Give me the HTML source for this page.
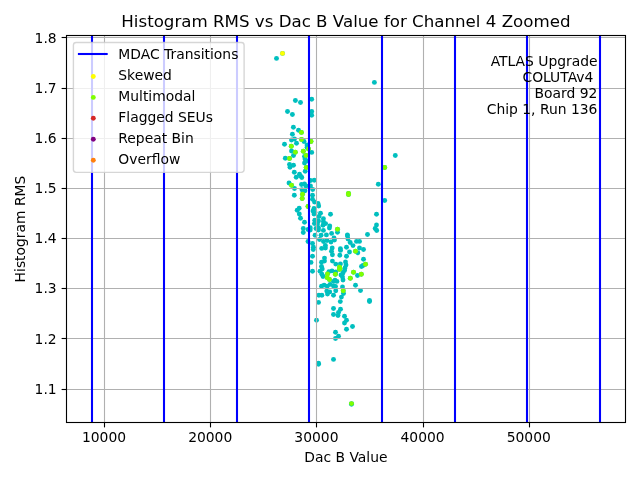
<!DOCTYPE html>
<html lang="en"><head><meta charset="utf-8"><title>Histogram RMS vs Dac B Value for Channel 4 Zoomed</title>
<style>html,body{margin:0;padding:0;background:#fff;overflow:hidden}svg{display:block;will-change:transform}text{font-family:"DejaVu Sans","Liberation Sans",sans-serif;fill:#000}</style></head><body>
<svg width="640" height="480" viewBox="0 0 640 480">
<clipPath id="ax"><rect x="66.5" y="35.5" width="559" height="387"/></clipPath>
<g clip-path="url(#ax)">
<g fill="#00bfbf">
<circle cx="276.50" cy="58.40" r="2.45"/>
<circle cx="282.50" cy="53.40" r="2.45"/>
<circle cx="374.40" cy="82.40" r="2.45"/>
<circle cx="295.40" cy="100.50" r="2.45"/>
<circle cx="300.50" cy="102.50" r="2.45"/>
<circle cx="311.70" cy="99.30" r="2.45"/>
<circle cx="287.50" cy="111.50" r="2.45"/>
<circle cx="292.40" cy="114.50" r="2.45"/>
<circle cx="311.70" cy="111.50" r="2.45"/>
<circle cx="311.70" cy="115.30" r="2.45"/>
<circle cx="293.40" cy="127.30" r="2.45"/>
<circle cx="298.50" cy="130.30" r="2.45"/>
<circle cx="292.40" cy="134.30" r="2.45"/>
<circle cx="291.50" cy="140.00" r="2.45"/>
<circle cx="294.50" cy="139.00" r="2.45"/>
<circle cx="304.00" cy="141.50" r="2.45"/>
<circle cx="284.50" cy="144.30" r="2.45"/>
<circle cx="296.50" cy="143.30" r="2.45"/>
<circle cx="307.00" cy="145.00" r="2.45"/>
<circle cx="307.00" cy="147.50" r="2.45"/>
<circle cx="291.50" cy="151.00" r="2.45"/>
<circle cx="311.70" cy="152.40" r="2.45"/>
<circle cx="293.50" cy="155.50" r="2.45"/>
<circle cx="285.30" cy="158.30" r="2.45"/>
<circle cx="304.50" cy="156.50" r="2.45"/>
<circle cx="305.00" cy="159.00" r="2.45"/>
<circle cx="307.00" cy="161.00" r="2.45"/>
<circle cx="289.50" cy="164.50" r="2.45"/>
<circle cx="293.50" cy="165.20" r="2.45"/>
<circle cx="290.00" cy="167.20" r="2.45"/>
<circle cx="304.50" cy="163.00" r="2.45"/>
<circle cx="305.20" cy="171.30" r="2.45"/>
<circle cx="294.30" cy="172.30" r="2.45"/>
<circle cx="299.50" cy="174.20" r="2.45"/>
<circle cx="296.20" cy="177.30" r="2.45"/>
<circle cx="301.80" cy="177.50" r="2.45"/>
<circle cx="300.50" cy="176.00" r="2.45"/>
<circle cx="314.30" cy="180.30" r="2.45"/>
<circle cx="310.50" cy="180.50" r="2.45"/>
<circle cx="289.00" cy="183.00" r="2.45"/>
<circle cx="301.50" cy="184.50" r="2.45"/>
<circle cx="304.50" cy="184.00" r="2.45"/>
<circle cx="306.00" cy="186.00" r="2.45"/>
<circle cx="310.50" cy="186.00" r="2.45"/>
<circle cx="294.50" cy="188.50" r="2.45"/>
<circle cx="302.00" cy="189.80" r="2.45"/>
<circle cx="305.00" cy="190.80" r="2.45"/>
<circle cx="312.70" cy="189.50" r="2.45"/>
<circle cx="294.30" cy="195.30" r="2.45"/>
<circle cx="312.50" cy="195.30" r="2.45"/>
<circle cx="312.50" cy="199.30" r="2.45"/>
<circle cx="314.50" cy="202.00" r="2.45"/>
<circle cx="318.00" cy="203.50" r="2.45"/>
<circle cx="318.70" cy="206.00" r="2.45"/>
<circle cx="314.00" cy="208.50" r="2.45"/>
<circle cx="313.00" cy="211.00" r="2.45"/>
<circle cx="299.20" cy="208.20" r="2.45"/>
<circle cx="297.20" cy="210.30" r="2.45"/>
<circle cx="299.30" cy="214.00" r="2.45"/>
<circle cx="320.50" cy="213.20" r="2.45"/>
<circle cx="319.00" cy="216.50" r="2.45"/>
<circle cx="330.50" cy="214.30" r="2.45"/>
<circle cx="314.00" cy="214.00" r="2.45"/>
<circle cx="395.30" cy="155.50" r="2.45"/>
<circle cx="378.30" cy="184.30" r="2.45"/>
<circle cx="384.70" cy="200.50" r="2.45"/>
<circle cx="376.50" cy="214.30" r="2.45"/>
<circle cx="376.50" cy="225.00" r="2.45"/>
<circle cx="375.20" cy="228.50" r="2.45"/>
<circle cx="376.70" cy="230.50" r="2.45"/>
<circle cx="367.50" cy="234.50" r="2.45"/>
<circle cx="300.50" cy="218.30" r="2.45"/>
<circle cx="304.50" cy="222.30" r="2.45"/>
<circle cx="303.30" cy="228.50" r="2.45"/>
<circle cx="303.30" cy="232.50" r="2.45"/>
<circle cx="308.00" cy="229.50" r="2.45"/>
<circle cx="323.40" cy="218.75" r="2.45"/>
<circle cx="323.40" cy="221.75" r="2.45"/>
<circle cx="325.60" cy="223.60" r="2.45"/>
<circle cx="314.75" cy="220.25" r="2.45"/>
<circle cx="314.40" cy="223.60" r="2.45"/>
<circle cx="318.50" cy="221.00" r="2.45"/>
<circle cx="329.75" cy="225.90" r="2.45"/>
<circle cx="329.40" cy="228.10" r="2.45"/>
<circle cx="337.50" cy="232.25" r="2.45"/>
<circle cx="318.50" cy="227.75" r="2.45"/>
<circle cx="318.50" cy="230.00" r="2.45"/>
<circle cx="323.40" cy="230.40" r="2.45"/>
<circle cx="310.25" cy="227.75" r="2.45"/>
<circle cx="310.25" cy="230.00" r="2.45"/>
<circle cx="331.60" cy="233.40" r="2.45"/>
<circle cx="326.40" cy="234.90" r="2.45"/>
<circle cx="347.40" cy="234.90" r="2.45"/>
<circle cx="315.10" cy="235.25" r="2.45"/>
<circle cx="321.10" cy="235.25" r="2.45"/>
<circle cx="334.00" cy="238.00" r="2.45"/>
<circle cx="334.50" cy="240.00" r="2.45"/>
<circle cx="319.50" cy="239.50" r="2.45"/>
<circle cx="323.50" cy="241.50" r="2.45"/>
<circle cx="327.00" cy="240.50" r="2.45"/>
<circle cx="331.00" cy="242.00" r="2.45"/>
<circle cx="308.00" cy="241.50" r="2.45"/>
<circle cx="312.50" cy="243.50" r="2.45"/>
<circle cx="313.40" cy="247.20" r="2.45"/>
<circle cx="313.25" cy="249.50" r="2.45"/>
<circle cx="350.20" cy="242.50" r="2.45"/>
<circle cx="353.00" cy="245.60" r="2.45"/>
<circle cx="325.40" cy="245.50" r="2.45"/>
<circle cx="321.70" cy="248.40" r="2.45"/>
<circle cx="325.40" cy="248.00" r="2.45"/>
<circle cx="332.20" cy="248.00" r="2.45"/>
<circle cx="331.50" cy="251.30" r="2.45"/>
<circle cx="332.40" cy="254.75" r="2.45"/>
<circle cx="340.40" cy="248.70" r="2.45"/>
<circle cx="340.50" cy="250.40" r="2.45"/>
<circle cx="346.50" cy="247.30" r="2.45"/>
<circle cx="349.50" cy="252.00" r="2.45"/>
<circle cx="347.50" cy="236.00" r="2.45"/>
<circle cx="348.00" cy="239.00" r="2.45"/>
<circle cx="356.50" cy="241.40" r="2.45"/>
<circle cx="359.50" cy="241.40" r="2.45"/>
<circle cx="359.50" cy="248.00" r="2.45"/>
<circle cx="363.50" cy="249.50" r="2.45"/>
<circle cx="357.80" cy="252.80" r="2.45"/>
<circle cx="346.50" cy="256.30" r="2.45"/>
<circle cx="339.80" cy="255.30" r="2.45"/>
<circle cx="363.50" cy="259.30" r="2.45"/>
<circle cx="361.50" cy="266.50" r="2.45"/>
<circle cx="363.00" cy="265.50" r="2.45"/>
<circle cx="345.50" cy="262.00" r="2.45"/>
<circle cx="346.00" cy="265.00" r="2.45"/>
<circle cx="345.00" cy="268.00" r="2.45"/>
<circle cx="344.50" cy="270.50" r="2.45"/>
<circle cx="343.00" cy="273.00" r="2.45"/>
<circle cx="340.40" cy="263.90" r="2.45"/>
<circle cx="357.50" cy="275.50" r="2.45"/>
<circle cx="342.50" cy="277.00" r="2.45"/>
<circle cx="343.00" cy="280.00" r="2.45"/>
<circle cx="341.00" cy="275.00" r="2.45"/>
<circle cx="312.50" cy="256.25" r="2.45"/>
<circle cx="311.00" cy="262.40" r="2.45"/>
<circle cx="312.50" cy="271.25" r="2.45"/>
<circle cx="324.50" cy="258.10" r="2.45"/>
<circle cx="321.50" cy="262.25" r="2.45"/>
<circle cx="324.50" cy="261.10" r="2.45"/>
<circle cx="332.40" cy="261.10" r="2.45"/>
<circle cx="335.75" cy="264.10" r="2.45"/>
<circle cx="321.50" cy="266.40" r="2.45"/>
<circle cx="322.25" cy="269.00" r="2.45"/>
<circle cx="320.00" cy="271.25" r="2.45"/>
<circle cx="321.90" cy="274.25" r="2.45"/>
<circle cx="323.00" cy="276.50" r="2.45"/>
<circle cx="329.00" cy="271.60" r="2.45"/>
<circle cx="332.00" cy="270.90" r="2.45"/>
<circle cx="335.75" cy="272.00" r="2.45"/>
<circle cx="335.00" cy="280.25" r="2.45"/>
<circle cx="333.50" cy="281.40" r="2.45"/>
<circle cx="336.90" cy="281.40" r="2.45"/>
<circle cx="321.50" cy="286.25" r="2.45"/>
<circle cx="324.10" cy="285.10" r="2.45"/>
<circle cx="330.10" cy="284.40" r="2.45"/>
<circle cx="333.50" cy="285.90" r="2.45"/>
<circle cx="342.50" cy="287.00" r="2.45"/>
<circle cx="326.75" cy="291.10" r="2.45"/>
<circle cx="329.75" cy="291.90" r="2.45"/>
<circle cx="327.50" cy="294.10" r="2.45"/>
<circle cx="335.75" cy="290.75" r="2.45"/>
<circle cx="333.50" cy="295.25" r="2.45"/>
<circle cx="318.90" cy="295.25" r="2.45"/>
<circle cx="321.90" cy="295.25" r="2.45"/>
<circle cx="341.40" cy="297.10" r="2.45"/>
<circle cx="318.50" cy="302.40" r="2.45"/>
<circle cx="340.30" cy="301.60" r="2.45"/>
<circle cx="333.50" cy="308.50" r="2.45"/>
<circle cx="340.50" cy="309.20" r="2.45"/>
<circle cx="338.50" cy="312.50" r="2.45"/>
<circle cx="338.00" cy="315.50" r="2.45"/>
<circle cx="333.50" cy="314.50" r="2.45"/>
<circle cx="344.50" cy="316.30" r="2.45"/>
<circle cx="346.50" cy="320.30" r="2.45"/>
<circle cx="344.50" cy="323.00" r="2.45"/>
<circle cx="316.50" cy="320.30" r="2.45"/>
<circle cx="352.50" cy="326.50" r="2.45"/>
<circle cx="346.50" cy="329.30" r="2.45"/>
<circle cx="335.50" cy="332.30" r="2.45"/>
<circle cx="338.50" cy="336.30" r="2.45"/>
<circle cx="335.50" cy="338.50" r="2.45"/>
<circle cx="355.50" cy="285.30" r="2.45"/>
<circle cx="360.50" cy="290.50" r="2.45"/>
<circle cx="343.50" cy="293.50" r="2.45"/>
<circle cx="369.50" cy="300.50" r="2.45"/>
<circle cx="369.50" cy="301.50" r="2.45"/>
<circle cx="316.30" cy="220.50" r="2.45"/>
<circle cx="317.50" cy="224.00" r="2.45"/>
<circle cx="316.00" cy="228.50" r="2.45"/>
<circle cx="323.00" cy="225.20" r="2.45"/>
<circle cx="315.00" cy="212.50" r="2.45"/>
<circle cx="327.20" cy="286.20" r="2.45"/>
<circle cx="335.50" cy="286.50" r="2.45"/>
<circle cx="333.50" cy="359.40" r="2.45"/>
<circle cx="318.50" cy="363.20" r="2.45"/>
<circle cx="318.50" cy="364.30" r="2.45"/>
<circle cx="351.50" cy="404.30" r="2.45"/>
<circle cx="301.40" cy="132.40" r="2.45"/>
<circle cx="301.50" cy="139.50" r="2.45"/>
<circle cx="311.00" cy="141.50" r="2.45"/>
<circle cx="291.30" cy="146.30" r="2.45"/>
<circle cx="308.50" cy="149.00" r="2.45"/>
<circle cx="295.30" cy="152.20" r="2.45"/>
<circle cx="303.30" cy="151.20" r="2.45"/>
<circle cx="306.00" cy="155.50" r="2.45"/>
<circle cx="289.50" cy="158.50" r="2.45"/>
<circle cx="306.20" cy="167.50" r="2.45"/>
<circle cx="291.50" cy="185.30" r="2.45"/>
<circle cx="302.50" cy="194.20" r="2.45"/>
<circle cx="302.20" cy="198.50" r="2.45"/>
<circle cx="308.00" cy="206.50" r="2.45"/>
<circle cx="384.70" cy="167.50" r="2.45"/>
<circle cx="348.50" cy="193.50" r="2.45"/>
<circle cx="348.50" cy="194.50" r="2.45"/>
<circle cx="337.50" cy="229.25" r="2.45"/>
<circle cx="355.50" cy="251.30" r="2.45"/>
<circle cx="365.50" cy="264.30" r="2.45"/>
<circle cx="340.00" cy="268.50" r="2.45"/>
<circle cx="353.50" cy="272.30" r="2.45"/>
<circle cx="361.30" cy="274.30" r="2.45"/>
<circle cx="350.30" cy="278.30" r="2.45"/>
<circle cx="339.50" cy="267.10" r="2.45"/>
<circle cx="339.50" cy="269.40" r="2.45"/>
<circle cx="327.50" cy="273.90" r="2.45"/>
<circle cx="335.40" cy="274.25" r="2.45"/>
<circle cx="327.10" cy="277.60" r="2.45"/>
<circle cx="329.40" cy="279.50" r="2.45"/>
<circle cx="343.25" cy="290.75" r="2.45"/>
<circle cx="351.50" cy="403.60" r="2.45"/>
</g>
<g fill="#ffff00">
<circle cx="282.50" cy="53.40" r="2.45"/>
</g>
<g fill="#7fff00">
<circle cx="301.40" cy="132.40" r="2.45"/>
<circle cx="301.50" cy="139.50" r="2.45"/>
<circle cx="311.00" cy="141.50" r="2.45"/>
<circle cx="291.30" cy="146.30" r="2.45"/>
<circle cx="308.50" cy="149.00" r="2.45"/>
<circle cx="295.30" cy="152.20" r="2.45"/>
<circle cx="303.30" cy="151.20" r="2.45"/>
<circle cx="306.00" cy="155.50" r="2.45"/>
<circle cx="289.50" cy="158.50" r="2.45"/>
<circle cx="306.20" cy="167.50" r="2.45"/>
<circle cx="291.50" cy="185.30" r="2.45"/>
<circle cx="302.50" cy="194.20" r="2.45"/>
<circle cx="302.20" cy="198.50" r="2.45"/>
<circle cx="308.00" cy="206.50" r="2.45"/>
<circle cx="384.70" cy="167.50" r="2.45"/>
<circle cx="348.50" cy="193.50" r="2.45"/>
<circle cx="348.50" cy="194.50" r="2.45"/>
<circle cx="337.50" cy="229.25" r="2.45"/>
<circle cx="355.50" cy="251.30" r="2.45"/>
<circle cx="365.50" cy="264.30" r="2.45"/>
<circle cx="340.00" cy="268.50" r="2.45"/>
<circle cx="353.50" cy="272.30" r="2.45"/>
<circle cx="361.30" cy="274.30" r="2.45"/>
<circle cx="350.30" cy="278.30" r="2.45"/>
<circle cx="339.50" cy="267.10" r="2.45"/>
<circle cx="339.50" cy="269.40" r="2.45"/>
<circle cx="327.50" cy="273.90" r="2.45"/>
<circle cx="335.40" cy="274.25" r="2.45"/>
<circle cx="327.10" cy="277.60" r="2.45"/>
<circle cx="329.40" cy="279.50" r="2.45"/>
<circle cx="343.25" cy="290.75" r="2.45"/>
<circle cx="351.50" cy="403.60" r="2.45"/>
</g>
<g stroke="#b0b0b0" stroke-width="1.11" fill="none">
<line x1="104.5" y1="35" x2="104.5" y2="423"/>
<line x1="210.5" y1="35" x2="210.5" y2="423"/>
<line x1="316.5" y1="35" x2="316.5" y2="423"/>
<line x1="423.5" y1="35" x2="423.5" y2="423"/>
<line x1="529.5" y1="35" x2="529.5" y2="423"/>
<line x1="66" y1="37.5" x2="626" y2="37.5"/>
<line x1="66" y1="88.5" x2="626" y2="88.5"/>
<line x1="66" y1="138.5" x2="626" y2="138.5"/>
<line x1="66" y1="188.5" x2="626" y2="188.5"/>
<line x1="66" y1="238.5" x2="626" y2="238.5"/>
<line x1="66" y1="288.5" x2="626" y2="288.5"/>
<line x1="66" y1="338.5" x2="626" y2="338.5"/>
<line x1="66" y1="389.5" x2="626" y2="389.5"/>
</g>
<g stroke="#0000ff" stroke-width="2.08" fill="none">
<line x1="92" y1="35" x2="92" y2="423"/>
<line x1="164" y1="35" x2="164" y2="423"/>
<line x1="237" y1="35" x2="237" y2="423"/>
<line x1="309" y1="35" x2="309" y2="423"/>
<line x1="382" y1="35" x2="382" y2="423"/>
<line x1="455" y1="35" x2="455" y2="423"/>
<line x1="527" y1="35" x2="527" y2="423"/>
<line x1="600" y1="35" x2="600" y2="423"/>
</g>
</g>
<g stroke="#000" stroke-width="1.11" fill="none">
<line x1="104.5" y1="422.5" x2="104.5" y2="427.4"/>
<line x1="210.5" y1="422.5" x2="210.5" y2="427.4"/>
<line x1="316.5" y1="422.5" x2="316.5" y2="427.4"/>
<line x1="423.5" y1="422.5" x2="423.5" y2="427.4"/>
<line x1="529.5" y1="422.5" x2="529.5" y2="427.4"/>
<line x1="61.6" y1="37.5" x2="66.5" y2="37.5"/>
<line x1="61.6" y1="88.5" x2="66.5" y2="88.5"/>
<line x1="61.6" y1="138.5" x2="66.5" y2="138.5"/>
<line x1="61.6" y1="188.5" x2="66.5" y2="188.5"/>
<line x1="61.6" y1="238.5" x2="66.5" y2="238.5"/>
<line x1="61.6" y1="288.5" x2="66.5" y2="288.5"/>
<line x1="61.6" y1="338.5" x2="66.5" y2="338.5"/>
<line x1="61.6" y1="389.5" x2="66.5" y2="389.5"/>
</g>
<rect x="66.5" y="35.5" width="559" height="387" fill="none" stroke="#000" stroke-width="1.11" stroke-linejoin="miter"/>
<g font-size="13.89px">
<text x="104.00" y="441.9" text-anchor="middle">10000</text>
<text x="210.20" y="441.9" text-anchor="middle">20000</text>
<text x="316.40" y="441.9" text-anchor="middle">30000</text>
<text x="422.60" y="441.9" text-anchor="middle">40000</text>
<text x="528.80" y="441.9" text-anchor="middle">50000</text>
<text x="56.7" y="42.50" text-anchor="end">1.8</text>
<text x="56.7" y="92.67" text-anchor="end">1.7</text>
<text x="56.7" y="142.84" text-anchor="end">1.6</text>
<text x="56.7" y="193.01" text-anchor="end">1.5</text>
<text x="56.7" y="243.18" text-anchor="end">1.4</text>
<text x="56.7" y="293.35" text-anchor="end">1.3</text>
<text x="56.7" y="343.52" text-anchor="end">1.2</text>
<text x="56.7" y="393.69" text-anchor="end">1.1</text>
<text x="345.9" y="461.9" text-anchor="middle">Dac B Value</text>
<text transform="translate(25.3 229) rotate(-90)" text-anchor="middle">Histogram RMS</text>
<text x="597.6" y="65.6" text-anchor="end">ATLAS Upgrade</text>
<text x="593.4" y="81.5" text-anchor="end">COLUTAv4</text>
<text x="597.3" y="97.5" text-anchor="end">Board 92</text>
<text x="597.4" y="113.5" text-anchor="end">Chip 1, Run 136</text>
</g>
<text x="345.9" y="26.6" text-anchor="middle" font-size="16.67px">Histogram RMS vs Dac B Value for Channel 4 Zoomed</text>
<rect x="73.4" y="42.5" width="170.7" height="129.9" rx="2.8" ry="2.8" fill="#ffffff" fill-opacity="0.8" stroke="#cccccc" stroke-opacity="0.8" stroke-width="1.39"/>
<line x1="77.9" y1="54" x2="107.7" y2="54" stroke="#0000ff" stroke-width="2.08"/>
<circle cx="93.3" cy="76.5" r="2.45" fill="#ffff00"/>
<circle cx="93.3" cy="97.4" r="2.45" fill="#7fff00"/>
<circle cx="93.3" cy="118.3" r="2.45" fill="#d62728"/>
<circle cx="93.3" cy="139.3" r="2.45" fill="#800080"/>
<circle cx="93.3" cy="160.3" r="2.45" fill="#ff7f0e"/>
<g font-size="13.89px">
<text x="118.3" y="59.00">MDAC Transitions</text>
<text x="118.3" y="79.90">Skewed</text>
<text x="118.3" y="100.80">Multimodal</text>
<text x="118.3" y="121.70">Flagged SEUs</text>
<text x="118.3" y="142.60">Repeat Bin</text>
<text x="118.3" y="163.50">Overflow</text>
</g>
</svg></body></html>
